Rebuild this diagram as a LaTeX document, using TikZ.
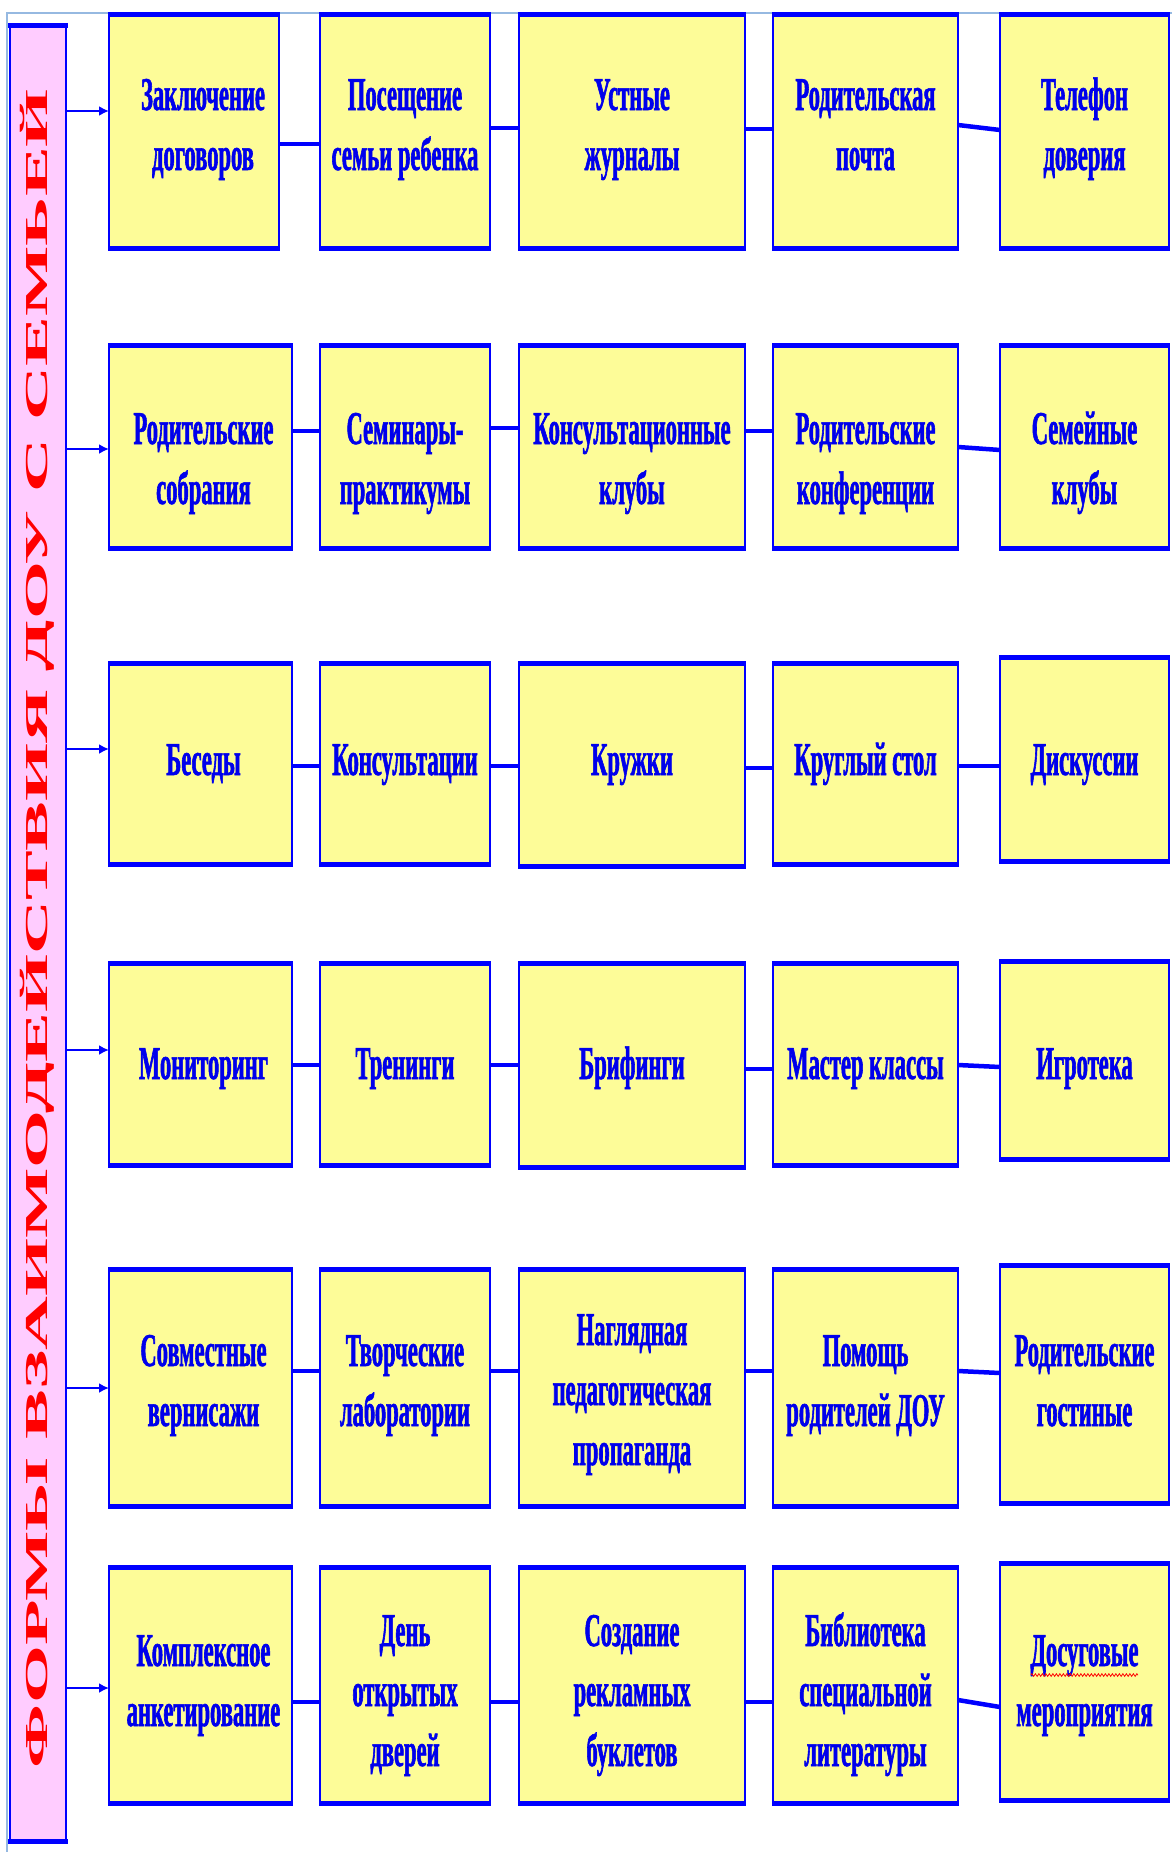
\documentclass[tikz,border=0pt]{standalone}
\usepackage{fontspec}
\setmainfont{Liberation Serif}
\newfontfamily\boxfont[FakeStretch=0.48,FakeBold=1.2]{Liberation Serif}
\newfontfamily\titlefont[FakeStretch=2.33]{Liberation Serif}
\usetikzlibrary{arrows.meta,decorations.pathmorphing}
\definecolor{boxblue}{RGB}{0,0,255}
\definecolor{txtblue}{RGB}{0,0,235}
\definecolor{boxfill}{RGB}{253,252,152}
\definecolor{barfill}{RGB}{255,204,255}
\definecolor{framecol}{RGB}{150,185,225}
\definecolor{titlered}{RGB}{255,0,0}
\tikzset{
  boxst/.style={draw=boxblue, line width=2pt, fill=boxfill, inner sep=0pt, outer sep=0pt},
  edgest/.style={draw=boxblue, line width=5pt},
  txtst/.style={text=txtblue, align=center, inner sep=0pt, font=\boxfont\bfseries\fontsize{47}{60}\selectfont},
  conn/.style={draw=boxblue, line width=4.5pt},
  arr/.style={draw=boxblue, line width=2pt, -{Latex[length=10pt,width=10pt]}},
}
% \bx[xoffset]{name}{x1}{y1}{x2}{y2}{text centre y}{text}
\newcommand{\bx}[8][0]{%
  \node[boxst, minimum width={(#5-#3)*1pt}, minimum height={(#6-#4)*1pt}] (#2) at ({(#3+#5)/2},{(#4+#6)/2}) {};
  \draw[edgest] ([xshift=-1pt]#2.north west) -- ([xshift=1pt]#2.north east);
  \draw[edgest] ([xshift=-1pt]#2.south west) -- ([xshift=1pt]#2.south east);
  \node[txtst] (#2t) at ({(#3+#5)/2+#1},#7) {\strut #8\strut};
}
\begin{document}
\begin{tikzpicture}[x=1pt,y=-1pt]
\useasboundingbox (0,0) rectangle (1172,1852);
\fill[white] (0,0) rectangle (1172,1852);
% frame
\draw[framecol, line width=1.5pt] (7,1852) -- (7,13) -- (1172,13);
% left bar
\node[draw=boxblue, line width=2pt, fill=barfill, inner sep=0pt, minimum width=56pt, minimum height=1813pt] (bar) at (38,933.5) {};
\draw[edgest] ([xshift=-1pt]bar.north west) -- ([xshift=1pt]bar.north east);
\draw[edgest] ([xshift=-1pt]bar.south west) -- ([xshift=1pt]bar.south east);
\node[rotate=90, text=titlered, inner sep=0pt, font=\titlefont\bfseries\fontsize{32}{32}\selectfont] (title) at (37,929) {ФОРМЫ ВЗАИМОДЕЙСТВИЯ ДОУ С СЕМЬЕЙ};

% row 1
\bx[9]{r1c1}{109}{15}{279}{248}{128}{Заключение\\договоров}
\bx{r1c2}{320}{15}{490}{248}{128}{Посещение\\семьи ребенка}
\bx{r1c3}{519}{15}{745}{248}{128}{Устные\\журналы}
\bx{r1c4}{773}{15}{958}{248}{128}{Родительская\\почта}
\bx{r1c5}{1000}{15}{1169}{248}{128}{Телефон\\доверия}
% row 2
\bx[3]{r2c1}{109}{345}{292}{548}{462}{Родительские\\собрания}
\bx{r2c2}{320}{345}{490}{548}{462}{Семинары-\\практикумы}
\bx{r2c3}{519}{345}{745}{548}{462}{Консультационные\\клубы}
\bx{r2c4}{773}{345}{958}{548}{462}{Родительские\\конференции}
\bx{r2c5}{1000}{345}{1169}{548}{462}{Семейные\\клубы}
% row 3
\bx[3]{r3c1}{109}{663}{292}{864}{763}{Беседы}
\bx{r3c2}{320}{663}{490}{864}{763}{Консультации}
\bx{r3c3}{519}{663}{745}{866}{763}{Кружки}
\bx{r3c4}{773}{663}{958}{864}{763}{Круглый стол}
\bx{r3c5}{1000}{657}{1169}{861}{763}{Дискуссии}
% row 4
\bx[3]{r4c1}{109}{963}{292}{1165}{1067}{Мониторинг}
\bx{r4c2}{320}{963}{490}{1165}{1067}{Тренинги}
\bx{r4c3}{519}{963}{745}{1167}{1067}{Брифинги}
\bx{r4c4}{773}{963}{958}{1165}{1067}{Мастер классы}
\bx{r4c5}{1000}{961}{1169}{1159}{1067}{Игротека}
% row 5
\bx[3]{r5c1}{109}{1269}{292}{1506}{1384}{Совместные\\вернисажи}
\bx{r5c2}{320}{1269}{490}{1506}{1384}{Творческие\\лаборатории}
\bx{r5c3}{519}{1269}{745}{1506}{1393}{Наглядная\\педагогическая\\пропаганда}
\bx{r5c4}{773}{1269}{958}{1506}{1384}{Помощь\\родителей ДОУ}
\bx{r5c5}{1000}{1265}{1169}{1503}{1384}{Родительские\\гостиные}
% row 6
\bx[3]{r6c1}{109}{1567}{292}{1803}{1684}{Комплексное\\анкетирование}
\bx{r6c2}{320}{1567}{490}{1803}{1694}{День\\открытых\\дверей}
\bx{r6c3}{519}{1567}{745}{1803}{1694}{Создание\\рекламных\\буклетов}
\bx{r6c4}{773}{1567}{958}{1803}{1694}{Библиотека\\специальной\\литературы}
\bx{r6c5}{1000}{1563}{1169}{1800}{1684}{Досуговые\\мероприятия}
% spell-check squiggle
\draw[red, line width=0.8pt, decorate, decoration={zigzag, amplitude=1.3pt, segment length=3.5pt}] (1031,1675) -- (1138,1675);

% arrows from bar
\draw[arr] (bar.east |- 0,111) -- (r1c1.west |- 0,111);
\draw[arr] (bar.east |- 0,449) -- (r2c1.west |- 0,449);
\draw[arr] (bar.east |- 0,749) -- (r3c1.west |- 0,749);
\draw[arr] (bar.east |- 0,1050) -- (r4c1.west |- 0,1050);
\draw[arr] (bar.east |- 0,1388) -- (r5c1.west |- 0,1388);
\draw[arr] (bar.east |- 0,1688) -- (r6c1.west |- 0,1688);

% connectors
\draw[conn] (r1c1.east |- 0,144) -- (r1c2.west |- 0,144);
\draw[conn] (r1c2.east |- 0,128) -- (r1c3.west |- 0,128);
\draw[conn] (r1c3.east |- 0,129) -- (r1c4.west |- 0,129);
\draw[conn] (r1c4.east |- 0,125) -- (r1c5.west |- 0,130);

\draw[conn] (r2c1.east |- 0,431) -- (r2c2.west |- 0,431);
\draw[conn] (r2c2.east |- 0,428) -- (r2c3.west |- 0,428);
\draw[conn] (r2c3.east |- 0,431) -- (r2c4.west |- 0,431);
\draw[conn] (r2c4.east |- 0,447) -- (r2c5.west |- 0,450);

\draw[conn] (r3c1.east |- 0,766) -- (r3c2.west |- 0,766);
\draw[conn] (r3c2.east |- 0,766) -- (r3c3.west |- 0,766);
\draw[conn] (r3c3.east |- 0,768) -- (r3c4.west |- 0,768);
\draw[conn] (r3c4.east |- 0,766) -- (r3c5.west |- 0,766);

\draw[conn] (r4c1.east |- 0,1065) -- (r4c2.west |- 0,1065);
\draw[conn] (r4c2.east |- 0,1065) -- (r4c3.west |- 0,1065);
\draw[conn] (r4c3.east |- 0,1069) -- (r4c4.west |- 0,1069);
\draw[conn] (r4c4.east |- 0,1065) -- (r4c5.west |- 0,1067);

\draw[conn] (r5c1.east |- 0,1371) -- (r5c2.west |- 0,1371);
\draw[conn] (r5c2.east |- 0,1371) -- (r5c3.west |- 0,1371);
\draw[conn] (r5c3.east |- 0,1371) -- (r5c4.west |- 0,1371);
\draw[conn] (r5c4.east |- 0,1371) -- (r5c5.west |- 0,1373);

\draw[conn] (r6c1.east |- 0,1702) -- (r6c2.west |- 0,1702);
\draw[conn] (r6c2.east |- 0,1702) -- (r6c3.west |- 0,1702);
\draw[conn] (r6c3.east |- 0,1702) -- (r6c4.west |- 0,1702);
\draw[conn] (r6c4.east |- 0,1700) -- (r6c5.west |- 0,1707);
\end{tikzpicture}
\end{document}
